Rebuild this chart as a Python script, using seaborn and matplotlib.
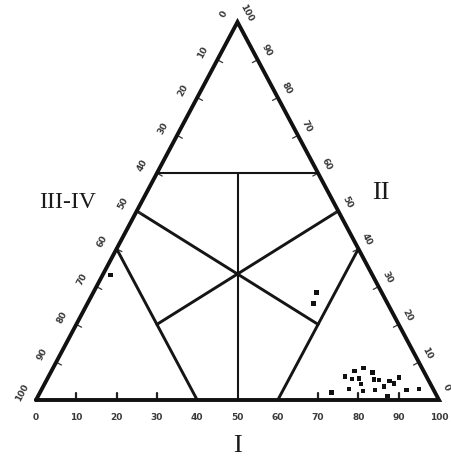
import numpy as np
import pandas as pd
import matplotlib
matplotlib.use("Agg")
import matplotlib.pyplot as plt
import seaborn as sns

# Sample compositions (percent): top apex, bottom-right (I) and bottom-left components
comp_top = [2.0, 6.2, 7.7, 8.5, 5.6, 5.7, 4.2, 2.9, 2.4, 7.3, 5.4, 5.3,
            2.6, 3.5, 5.0, 4.4, 6.0, 1.1, 2.6, 2.9, 33.1, 28.5, 25.6]
comp_right = [72.4, 73.6, 75.2, 77.0, 75.6, 77.3, 78.5, 76.2, 79.9, 79.8, 81.2, 82.5,
              82.8, 84.6, 85.2, 86.6, 87.1, 86.7, 90.7, 93.6, 2.0, 55.4, 56.0]
comp_left = [25.6, 20.2, 17.1, 14.5, 18.8, 17.0, 17.3, 20.9, 17.7, 12.9, 13.4, 12.2,
             14.6, 11.9, 9.8, 9.0, 6.9, 12.2, 6.7, 3.5, 64.9, 16.1, 18.4]

# Scale labels along each side
bottom_labels = [0, 10, 20, 30, 40, 50, 60, 70, 80, 90, 100]
left_labels = [0, 10, 20, 30, 40, 50, 60, 70, 80, 90, 100]     # apex -> bottom-left
right_labels = [100, 90, 80, 70, 60, 50, 40, 30, 20, 10, 0]    # apex -> bottom-right
corner_names = ["I", "II", "III-IV"]

sns.set_theme(style="white")
plt.rcParams["font.family"] = ["DejaVu Sans"]

W, H = 451, 459
fig = plt.figure(figsize=(W / 100, H / 100), dpi=100)
ax = fig.add_axes([0, 0, 1, 1])
x0, kx = 36.0, 4.03      # pixel of X=0, pixels per unit
y0, ky = 400.0, 3.78     # pixel of Y=0, pixels per unit
ax.set_xlim(-x0 / kx, (W - x0) / kx)
ax.set_ylim((y0 - H) / ky, y0 / ky)
ax.axis("off")


def to_xy(top, right):
    top = np.asarray(top, float)
    right = np.asarray(right, float)
    return right + top / 2.0, top


# Outer triangle
ax.plot([0, 100, 50, 0], [0, 0, 100, 0], color="#111111", lw=2.8,
        solid_joinstyle="miter", zorder=3)

# Field boundaries
thin = dict(color="#151515", lw=1.5, zorder=2)
thick = dict(color="#151515", lw=2.1, zorder=2)
ax.plot([30, 70], [60, 60], **thin)
ax.plot([50, 50], [60, 0], **thin)
ax.plot([20, 40], [40, 0], **thick)
ax.plot([80, 60], [40, 0], **thick)
ax.plot([25, 70], [50, 20], **thick)
ax.plot([75, 30], [50, 20], **thick)

# Bottom scale
for v in bottom_labels:
    if v in (10, 20, 30, 70, 80, 90):
        ax.plot([v, v], [0, 7 / ky], color="#222222", lw=1.6, zorder=2)
    ax.text(v, -17 / ky, str(v), ha="center", va="center", fontsize=6.5,
            fontweight="bold", color="#3a3a3a")

# Side scales: ticks perpendicular to the edge, labels outside, rotated
ang = np.degrees(np.arctan2(100 * ky, 50 * kx))
nx, ny = np.sin(np.radians(ang)), np.cos(np.radians(ang))
ex, ey = np.cos(np.radians(ang)), np.sin(np.radians(ang))   # along the edge
for i in range(11):
    Y = 100 - 10 * i
    # left edge
    xl = Y / 2.0
    if 0 < i < 10:
        ax.plot([xl, xl + 6 * nx / kx], [Y, Y - 6 * ny / ky], color="#333333",
                lw=0.9, zorder=2)
    ax.text(xl - 16 * nx / kx, Y + 16 * ny / ky, str(left_labels[i]),
            rotation=ang, ha="center", va="center", fontsize=6.5,
            fontweight="bold", color="#3a3a3a", rotation_mode="anchor")
    # right edge
    xr = 100 - Y / 2.0
    if 0 < i < 10:
        ax.plot([xr, xr - 6 * nx / kx], [Y, Y - 6 * ny / ky], color="#333333",
                lw=0.9, zorder=2)
    up = 8 if i == 10 else 4
    ax.text(xr + (12 * nx - up * ex) / kx, Y + (12 * ny + up * ey) / ky,
            str(right_labels[i]), rotation=-ang, ha="center", va="center",
            fontsize=6.5, fontweight="bold", color="#3a3a3a",
            rotation_mode="anchor")

# Samples
px, py = to_xy(comp_top, comp_right)
df = pd.DataFrame({"x": px, "y": py})
sns.scatterplot(data=df, x="x", y="y", ax=ax, marker="s", s=11,
                color="#111111", edgecolor="none", zorder=4, legend=False)

# Corner names
serif = dict(family=["Liberation Serif", "DejaVu Serif"], color="#1a1a1a")
ax.text(50, (y0 - 446) / ky, corner_names[0], ha="center", va="center",
        fontsize=19, **serif)
ax.text((381 - x0) / kx, (y0 - 193) / ky, corner_names[1], ha="center",
        va="center", fontsize=19, **serif)
ax.text((68 - x0) / kx, (y0 - 203) / ky, corner_names[2], ha="center",
        va="center", fontsize=17, **serif)

fig.savefig("out.png", dpi=100)
